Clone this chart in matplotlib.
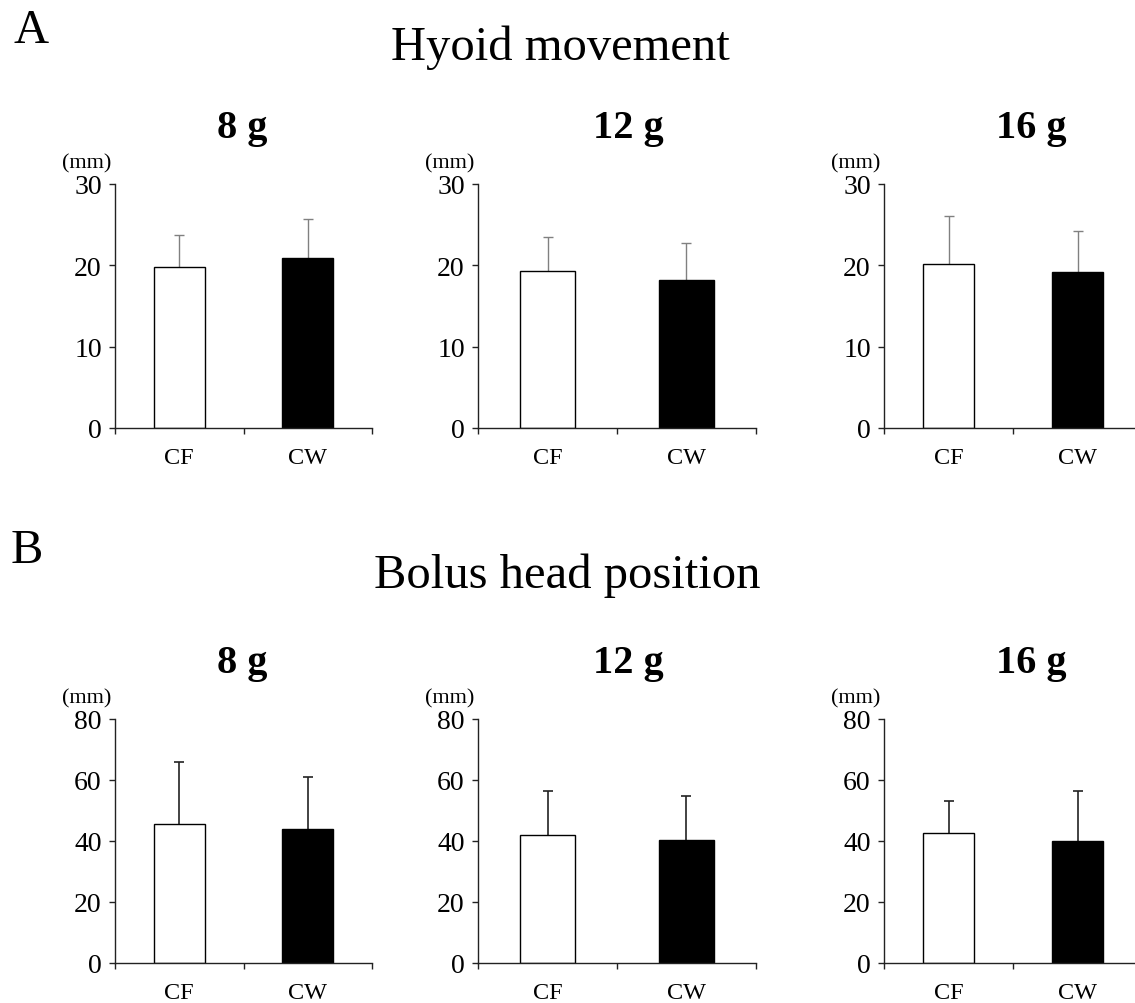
import numpy as np
from matplotlib import pyplot as plt

plt.rcParams["font.family"] = ["Liberation Serif", "DejaVu Serif"]

# Data (mean and upper error = SD)
groups = ["CF", "CW"]
weights = ["8 g", "12 g", "16 g"]

hyoid_cf_mean = [19.8, 19.3, 20.2]
hyoid_cw_mean = [20.9, 18.2, 19.2]
hyoid_cf_sd = [3.9, 4.2, 5.9]
hyoid_cw_sd = [4.8, 4.6, 5.0]

bolus_cf_mean = [45.6, 42.0, 42.6]
bolus_cw_mean = [43.9, 40.3, 40.0]
bolus_cf_sd = [20.3, 14.4, 10.5]
bolus_cw_sd = [17.1, 14.5, 16.4]

hyoid_ticks = [0, 10, 20, 30]
bolus_ticks = [0, 20, 40, 60, 80]

W, H = 1135, 1004
fig = plt.figure(figsize=(W / 100, H / 100), dpi=100)


def px_axes(x0, x1, y_bottom, y_top):
    return fig.add_axes([x0 / W, 1 - y_bottom / H,
                         (x1 - x0) / W, (y_bottom - y_top) / H])


def draw_panel(ax, means, sds, yticks, err_color, err_lw):
    x = np.arange(len(groups)) + 0.5
    ax.bar(x, means, width=0.4, color=["white", "black"],
           edgecolor="black", linewidth=1.0, zorder=2)
    eb = ax.errorbar(x, means, yerr=[np.zeros(len(sds)), sds], fmt="none",
                     ecolor=err_color, elinewidth=err_lw, capsize=3.3,
                     capthick=err_lw, zorder=1)
    # only the upper cap, as in the original
    eb[1][0].set_visible(False)
    ax.set_xlim(0, len(groups))
    ax.set_ylim(yticks[0], yticks[-1])
    ax.set_yticks(yticks)
    ax.set_xticks([0, 1, 2])
    ax.set_xticklabels([])
    ax.set_xticks(x, minor=True)
    ax.set_xticklabels(groups, minor=True)
    ax.tick_params(axis="x", which="major", direction="out", length=4.5,
                   width=1.0, color="#222222")
    ax.tick_params(axis="x", which="minor", length=0, pad=14,
                   labelsize=17.5)
    ax.tick_params(axis="y", direction="out", length=4.5, width=1.0,
                   color="#222222", pad=5, labelsize=20)
    for side in ["top", "right"]:
        ax.spines[side].set_visible(False)
    for side in ["left", "bottom"]:
        ax.spines[side].set_linewidth(1.0)
        ax.spines[side].set_color("#222222")


panel_x = [(115, 372), (478, 756), (884, 1142)]
title_x = [242, 628, 1031]
rows = [
    (429, 185, hyoid_cf_mean, hyoid_cw_mean, hyoid_cf_sd, hyoid_cw_sd,
     hyoid_ticks, "#808080", 1.0),
    (964, 720, bolus_cf_mean, bolus_cw_mean, bolus_cf_sd, bolus_cw_sd,
     bolus_ticks, "#222222", 1.2),
]

for y_bot, y_top, cf_m, cw_m, cf_s, cw_s, ticks, ecol, elw in rows:
    for i, (x0, x1) in enumerate(panel_x):
        ax = px_axes(x0, x1, y_bot, y_top)
        draw_panel(ax, [cf_m[i], cw_m[i]], [cf_s[i], cw_s[i]], ticks,
                   ecol, elw)
        fig.text(title_x[i] / W, 1 - (y_top - 47) / H, weights[i],
                 ha="center", va="baseline", fontsize=29, fontweight="bold")
        fig.text((x0 - 4) / W, 1 - (y_top - 17) / H, "(mm)",
                 ha="right", va="baseline", fontsize=16)

# Section labels and headings
fig.text(13 / W, 1 - 43 / H, "A", ha="left", va="baseline", fontsize=35)
fig.text(560 / W, 1 - 60 / H, "Hyoid movement", ha="center",
         va="baseline", fontsize=35)
fig.text(11 / W, 1 - 563 / H, "B", ha="left", va="baseline", fontsize=35)
fig.text(567 / W, 1 - 588 / H, "Bolus head position", ha="center",
         va="baseline", fontsize=35)

fig.savefig("out.png", dpi=100)
